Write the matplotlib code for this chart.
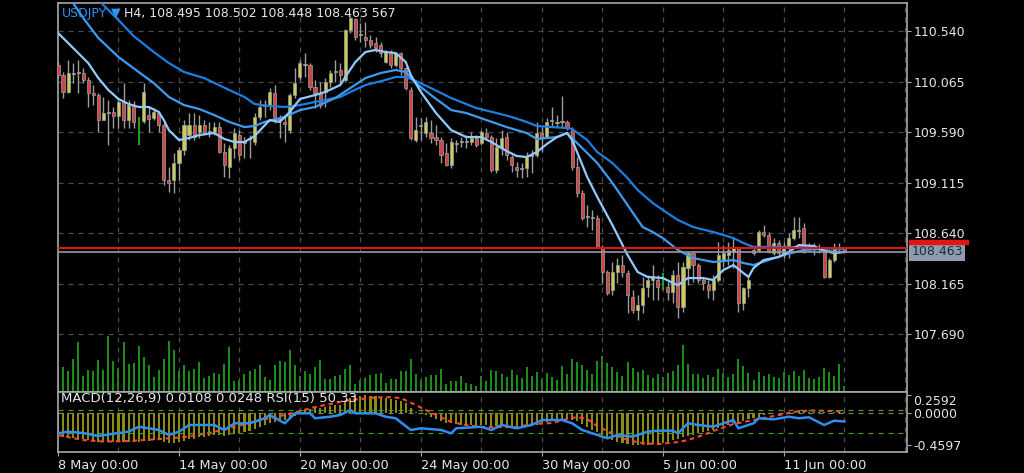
import numpy as np
import matplotlib
matplotlib.use("Agg")
import matplotlib.pyplot as plt
from matplotlib import transforms
from matplotlib.patches import Rectangle

# ----------------------------------------------------------------------
# DATA (USDJPY, H4)
# ----------------------------------------------------------------------
symbol = "USDJPY"
period = "H4"
bid = 108.463
ask = 108.496

opens = [
    110.221, 110.127, 109.967, 110.136, 110.145, 110.145, 110.080, 109.957, 109.938, 109.703,
    109.769, 109.779, 109.741, 109.873, 109.703, 109.844, 109.694, 109.694, 109.750, 109.722,
    109.769, 109.656, 109.139, 109.139, 109.299, 109.421, 109.562, 109.656, 109.590, 109.656,
    109.590, 109.590, 109.637, 109.402, 109.261, 109.440, 109.562, 109.487, 109.525, 109.496,
    109.732, 109.835, 109.844, 109.957, 109.703, 109.685, 109.609, 109.938, 110.108, 110.221,
    110.221, 110.014, 109.957, 109.967, 110.061, 110.155, 110.174, 110.080, 110.550, 110.653,
    110.503, 110.484, 110.456, 110.428, 110.409, 110.249, 110.343, 110.221, 110.333, 110.192,
    109.985, 109.515, 109.647, 109.581, 109.581, 109.543, 109.515, 109.393, 109.280, 109.478,
    109.496, 109.496, 109.496, 109.534, 109.487, 109.581, 109.543, 109.233, 109.440, 109.543,
    109.355, 109.261, 109.242, 109.252, 109.365, 109.374, 109.581, 109.543, 109.694, 109.685,
    109.685, 109.685, 109.609, 109.261, 109.017, 108.791, 108.791, 108.782, 108.509, 108.274,
    108.104, 108.274, 108.339, 108.264, 108.038, 107.916, 107.963, 108.133, 108.198, 108.198,
    108.180, 108.133, 108.085, 108.245, 107.944, 108.311, 108.452, 108.339, 108.198, 108.151,
    108.104, 108.198, 108.386, 108.434, 108.462, 108.499, 107.982, 108.123, 108.481, 108.481,
    108.650, 108.622, 108.452, 108.546, 108.434, 108.499, 108.593, 108.659, 108.687, 108.499,
    108.490, 108.499, 108.462, 108.227, 108.386, 108.490, 108.495,
]
highs = [
    110.249, 110.155, 110.268, 110.239, 110.268, 110.192, 110.108, 110.032, 109.957, 109.920,
    109.891, 109.826, 109.891, 110.051, 109.891, 109.882, 109.732, 110.051, 109.826, 109.816,
    109.779, 109.675, 109.261, 109.393, 109.449, 109.703, 109.769, 109.769, 109.750, 109.703,
    109.685, 109.685, 109.685, 109.487, 109.468, 109.628, 109.609, 109.543, 109.562, 109.769,
    109.891, 109.891, 110.004, 110.032, 109.750, 109.732, 109.957, 110.192, 110.268, 110.333,
    110.239, 110.080, 110.061, 110.098, 110.174, 110.268, 110.239, 110.560, 110.682, 110.663,
    110.616, 110.625, 110.503, 110.484, 110.437, 110.362, 110.362, 110.343, 110.343, 110.202,
    110.014, 109.732, 109.722, 109.732, 109.703, 109.656, 109.543, 109.487, 109.534, 109.515,
    109.543, 109.562, 109.590, 109.562, 109.609, 109.628, 109.562, 109.534, 109.609, 109.590,
    109.374, 109.308, 109.299, 109.402, 109.421, 109.685, 109.637, 109.722, 109.826, 109.750,
    109.929, 109.703, 109.637, 109.355, 109.045, 108.904, 108.857, 108.810, 108.528, 108.292,
    108.368, 108.405, 108.434, 108.292, 108.104, 108.057, 108.227, 108.245, 108.339, 108.245,
    108.264, 108.180, 108.292, 108.368, 108.368, 108.462, 108.462, 108.358, 108.227, 108.198,
    108.245, 108.556, 108.528, 108.556, 108.603, 108.509, 108.133, 108.245, 108.509, 108.669,
    108.716, 108.650, 108.593, 108.575, 108.556, 108.640, 108.791, 108.791, 108.735, 108.546,
    108.546, 108.537, 108.481, 108.405, 108.546, 108.546, 108.502,
]
lows = [
    110.098, 109.910, 109.957, 110.051, 109.957, 110.051, 109.826, 109.844, 109.590, 109.703,
    109.468, 109.628, 109.628, 109.628, 109.628, 109.628, 109.468, 109.675, 109.590, 109.703,
    109.590, 109.092, 109.026, 109.017, 109.139, 109.374, 109.515, 109.515, 109.534, 109.562,
    109.543, 109.562, 109.393, 109.167, 109.158, 109.346, 109.327, 109.346, 109.346, 109.468,
    109.703, 109.732, 109.797, 109.675, 109.534, 109.496, 109.581, 109.910, 110.080, 110.108,
    109.985, 109.816, 109.816, 109.826, 110.014, 110.061, 110.061, 110.061, 110.522, 110.456,
    110.437, 110.390, 110.381, 110.343, 110.296, 110.239, 110.192, 110.202, 110.127, 109.985,
    109.515, 109.496, 109.515, 109.543, 109.487, 109.468, 109.299, 109.271, 109.252, 109.402,
    109.449, 109.440, 109.468, 109.449, 109.468, 109.515, 109.214, 109.205, 109.374, 109.327,
    109.214, 109.167, 109.158, 109.167, 109.205, 109.355, 109.402, 109.534, 109.637, 109.637,
    109.637, 109.609, 109.233, 108.979, 108.763, 108.697, 108.669, 108.499, 108.170, 108.057,
    108.057, 108.170, 108.227, 107.888, 107.888, 107.822, 107.888, 108.038, 108.010, 108.010,
    108.104, 108.010, 107.982, 107.841, 107.897, 108.151, 108.180, 108.170, 108.104, 108.029,
    108.010, 108.180, 108.321, 108.339, 108.311, 107.897, 107.916, 108.038, 108.434, 108.462,
    108.603, 108.452, 108.434, 108.415, 108.405, 108.405, 108.575, 108.593, 108.452, 108.462,
    108.434, 108.452, 108.217, 108.217, 108.368, 108.452, 108.448,
]
closes = [
    110.127, 109.967, 110.145, 110.145, 110.155, 110.080, 109.957, 109.938, 109.703, 109.769,
    109.779, 109.741, 109.873, 109.703, 109.844, 109.685, 109.694, 109.967, 109.713, 109.779,
    109.656, 109.139, 109.111, 109.299, 109.421, 109.656, 109.656, 109.543, 109.656, 109.590,
    109.600, 109.637, 109.402, 109.280, 109.440, 109.581, 109.374, 109.496, 109.534, 109.732,
    109.826, 109.844, 109.967, 109.722, 109.713, 109.666, 109.938, 110.051, 110.239, 110.230,
    110.014, 109.957, 109.844, 110.061, 110.145, 110.164, 110.127, 110.550, 110.663, 110.484,
    110.512, 110.456, 110.409, 110.381, 110.333, 110.343, 110.221, 110.333, 110.192, 110.004,
    109.534, 109.609, 109.656, 109.685, 109.534, 109.515, 109.374, 109.280, 109.496, 109.487,
    109.506, 109.506, 109.534, 109.468, 109.590, 109.543, 109.233, 109.449, 109.534, 109.374,
    109.280, 109.233, 109.252, 109.355, 109.374, 109.581, 109.534, 109.685, 109.703, 109.675,
    109.694, 109.628, 109.261, 109.017, 108.782, 108.800, 108.782, 108.509, 108.274, 108.076,
    108.274, 108.339, 108.274, 108.057, 107.916, 107.963, 108.123, 108.198, 108.227, 108.133,
    108.180, 108.085, 108.245, 107.944, 108.321, 108.452, 108.339, 108.198, 108.170, 108.104,
    108.198, 108.434, 108.452, 108.481, 108.499, 107.982, 108.123, 108.198, 108.452, 108.650,
    108.622, 108.462, 108.546, 108.452, 108.499, 108.593, 108.669, 108.669, 108.462, 108.509,
    108.499, 108.490, 108.227, 108.386, 108.499, 108.499, 108.463,
]
volumes = [
    2500, 2500, 2070, 3330, 5000, 1600, 2170, 2070, 3230, 2170,
    5600, 3070, 2430, 5000, 2830, 2930, 4600, 3470, 2670, 1470,
    2170, 3330, 5100, 4230, 2070, 2670, 2070, 2300, 2970, 1430,
    1600, 1930, 1800, 2800, 4470, 1070, 1170, 1770, 2070, 2300,
    2700, 1470, 1170, 2670, 3070, 2970, 4200, 2670, 1600, 2070,
    1800, 2470, 3200, 1270, 1270, 1600, 1670, 2270, 2670, 800,
    1170, 1430, 1670, 1770, 1930, 900, 1270, 1270, 2070, 2070,
    3330, 1770, 1170, 1500, 1670, 1670, 2270, 800, 1070, 1130,
    1600, 900, 800, 570, 1600, 1070, 2170, 2070, 1800, 1500,
    2200, 1700, 1400, 2500, 1600, 2000, 1300, 1900, 1500, 1200,
    2600, 1800, 3300, 3000, 2700, 2200, 1800, 3100, 3600, 2900,
    2500, 2000, 1600, 3000, 2400, 2000, 2200, 1700, 1400, 1800,
    1500, 1900, 2100, 2700, 4700, 2800, 1800, 1800, 1400, 1700,
    1500, 2300, 1900, 1500, 1800, 3300, 2600, 1900, 1200, 2000,
    1600, 1800, 1500, 1400, 2000, 1700, 2100, 1600, 2200, 1400,
    1300, 1500, 2400, 2000, 1600, 2800, 567,
]

# moving averages (read at selected bars)
ma_fast_idx = [0, 3, 6, 8, 10, 12, 14, 16, 18, 20, 21, 22, 24, 26, 28, 31, 33, 35, 37, 39,
               42, 44, 46, 48, 51, 53, 56, 57, 59, 61, 63, 65, 67, 69, 70, 72, 75, 78, 81, 84,
               86, 89, 91, 93, 95, 97, 99, 101, 102, 103, 105, 107, 110, 113, 115, 117, 120, 122, 123, 125,
               128, 130, 132, 134, 136, 137, 138, 140, 143, 145, 147, 150, 152, 154, 156]
ma_fast = [110.522, 110.381, 110.239, 110.098, 109.985, 109.901, 109.854, 109.826, 109.826, 109.779,
           109.703, 109.609, 109.515, 109.534, 109.562, 109.581, 109.525, 109.496, 109.496, 109.553,
           109.703, 109.685, 109.779, 109.901, 109.938, 109.967, 110.032, 110.108, 110.249, 110.343,
           110.362, 110.343, 110.333, 110.249, 110.127, 109.967, 109.769, 109.609, 109.543, 109.543,
           109.496, 109.412, 109.365, 109.355, 109.402, 109.478, 109.543, 109.581, 109.515, 109.402,
           109.167, 108.979, 108.716, 108.434, 108.274, 108.227, 108.217, 108.170, 108.151, 108.217,
           108.217, 108.198, 108.292, 108.339, 108.264, 108.227, 108.311, 108.386, 108.415, 108.462,
           108.528, 108.518, 108.471, 108.452, 108.462]
ma_mid_idx = [0, 3, 5, 8, 12, 16, 19, 22, 25, 28, 31, 34, 37, 39, 41, 45, 48, 51, 55, 58,
              61, 64, 67, 69, 71, 74, 78, 81, 85, 89, 93, 95, 97, 99, 101, 103, 107, 110, 113, 116,
              118, 120, 123, 126, 130, 134, 136, 138, 141, 144, 148, 151, 154, 156]
ma_mid = [110.973, 110.804, 110.663, 110.475, 110.296, 110.155, 110.051, 109.920, 109.844, 109.807,
          109.750, 109.685, 109.637, 109.647, 109.685, 109.732, 109.797, 109.826, 109.910, 110.004,
          110.098, 110.145, 110.174, 110.155, 110.051, 109.938, 109.797, 109.769, 109.703, 109.637,
          109.581, 109.525, 109.534, 109.543, 109.581, 109.487, 109.299, 109.111, 108.904, 108.697,
          108.650, 108.593, 108.481, 108.405, 108.368, 108.386, 108.358, 108.339, 108.386, 108.434,
          108.481, 108.490, 108.462, 108.462]
ma_slow_idx = [0, 4, 8, 12, 15, 19, 22, 25, 29, 34, 37, 39, 42, 45, 48, 51, 56, 58, 61, 65,
               67, 69, 71, 74, 78, 83, 87, 90, 93, 95, 98, 101, 102, 105, 107, 110, 113, 115, 118, 120,
               123, 126, 130, 134, 136, 138, 143, 147, 151, 156]
ma_slow = [111.161, 111.001, 110.832, 110.644, 110.493, 110.343, 110.239, 110.155, 110.098, 109.985,
           109.920, 109.854, 109.835, 109.826, 109.844, 109.873, 109.920, 109.967, 110.032, 110.080,
           110.108, 110.108, 110.070, 110.004, 109.910, 109.816, 109.769, 109.732, 109.685, 109.647,
           109.637, 109.628, 109.619, 109.515, 109.402, 109.299, 109.158, 109.045, 108.923, 108.857,
           108.763, 108.697, 108.650, 108.593, 108.546, 108.509, 108.509, 108.509, 108.499, 108.490]

# MACD(12,26,9): main line per bar (drawn as histogram), signal read at selected bars
macd_main = [
    -0.32, -0.34, -0.35, -0.36, -0.37, -0.38, -0.39, -0.40, -0.41, -0.41,
    -0.42, -0.42, -0.42, -0.42, -0.41, -0.41, -0.41, -0.40, -0.40, -0.39,
    -0.39, -0.41, -0.43, -0.43, -0.42, -0.40, -0.38, -0.37, -0.35, -0.34,
    -0.33, -0.32, -0.32, -0.33, -0.32, -0.30, -0.29, -0.27, -0.26, -0.23,
    -0.20, -0.17, -0.14, -0.13, -0.12, -0.10, -0.07, -0.04, 0.00, 0.04,
    0.06, 0.07, 0.07, 0.08, 0.10, 0.11, 0.12, 0.17, 0.21, 0.24,
    0.25, 0.2592, 0.25, 0.24, 0.23, 0.22, 0.20, 0.19, 0.17, 0.14,
    0.07, 0.02, -0.01, -0.03, -0.06, -0.08, -0.11, -0.14, -0.15, -0.16,
    -0.17, -0.17, -0.17, -0.18, -0.17, -0.17, -0.19, -0.19, -0.18, -0.19,
    -0.20, -0.21, -0.21, -0.20, -0.19, -0.17, -0.16, -0.13, -0.11, -0.10,
    -0.09, -0.09, -0.10, -0.12, -0.16, -0.20, -0.24, -0.28, -0.32, -0.36,
    -0.39, -0.41, -0.43, -0.45, -0.455, -0.458, -0.4597, -0.455, -0.45, -0.44,
    -0.43, -0.41, -0.39, -0.38, -0.35, -0.33, -0.31, -0.29, -0.28, -0.26,
    -0.24, -0.21, -0.19, -0.17, -0.15, -0.14, -0.12, -0.09, -0.065, -0.05,
    -0.03, -0.02, 0.00, 0.00, 0.005, 0.01, 0.02, 0.03, 0.025, 0.02,
    0.02, 0.02, 0.01, 0.005, 0.01, 0.01, 0.0108,
]
signal_idx = [0, 5, 9, 14, 20, 25, 30, 34, 38, 42, 45, 48, 51, 55, 58, 62, 65, 68, 71, 73,
              75, 78, 81, 84, 88, 91, 94, 98, 101, 103, 105, 107, 109, 111, 113, 116, 119, 121, 123, 125,
              128, 131, 134, 138, 141, 145, 147, 150, 153, 156]
signal = [-0.317, -0.389, -0.410, -0.403, -0.375, -0.346, -0.288, -0.216, -0.144, -0.072,
          -0.029, 0.029, 0.086, 0.144, 0.187, 0.216, 0.231, 0.216, 0.115, 0.043,
          -0.029, -0.130, -0.173, -0.202, -0.202, -0.202, -0.159, -0.144, -0.086, -0.058,
          -0.086, -0.187, -0.259, -0.331, -0.389, -0.432, -0.447, -0.432, -0.418, -0.389,
          -0.317, -0.231, -0.159, -0.101, -0.058, 0.000, 0.029, 0.036, 0.030, 0.0248]

# RSI(15), read at selected bars
rsi_idx = [0, 2, 5, 8, 12, 14, 16, 18, 20, 22, 24, 26, 28, 31, 33, 35, 38, 41, 42, 45,
           47, 50, 51, 54, 56, 58, 59, 63, 65, 67, 70, 72, 76, 78, 79, 84, 86, 88, 91, 94,
           96, 100, 102, 104, 106, 109, 111, 114, 117, 119, 122, 123, 125, 127, 130, 133, 134, 135, 138, 139,
           142, 145, 147, 149, 152, 154, 156]
rsi = [30.0, 32.8, 30.5, 25.4, 30.5, 32.8, 41.3, 38.6, 35.7, 27.1,
       32.8, 44.3, 44.3, 44.3, 35.7, 47.2, 47.2, 55.8, 61.4, 47.2,
       64.3, 64.3, 55.8, 58.5, 61.4, 70.0, 64.3, 64.3, 58.5, 55.8,
       35.7, 38.6, 35.7, 30.0, 38.6, 41.3, 35.7, 44.3, 38.6, 44.3,
       52.8, 52.8, 47.2, 35.7, 30.0, 21.4, 27.1, 24.2, 32.8, 34.5,
       34.5, 30.0, 47.2, 44.3, 41.3, 49.9, 52.8, 38.6, 47.2, 55.8,
       54.0, 58.5, 55.8, 57.5, 44.3, 51.6, 50.33]
rsi_levels = [70, 30]

price_ticks = [110.540, 110.065, 109.590, 109.115, 108.640, 108.165, 107.690]
macd_ticks = [0.2592, 0.0, -0.4597]
time_ticks = [0, 24, 48, 72, 96, 120, 144]
time_labels = ["8 May 00:00", "14 May 00:00", "20 May 00:00", "24 May 00:00",
               "30 May 00:00", "5 Jun 00:00", "11 Jun 00:00"]

# ----------------------------------------------------------------------
# LAYOUT / STYLE
# ----------------------------------------------------------------------
W, H = 1024, 473
BAR_PX = 5.04                      # pixel distance between two bars
X_MAX = (907 - 58) / BAR_PX
PRICE_VIEW = (107.145, 110.804)
MACD_VIEW = (-0.5605, 0.3024)
RSI_VIEW = (-2.1, 100.9)
VOL_VIEW = (0, 38900)

TXT = "#e6e6e6"
FRAME = "#a8a8a8"
GRID = "#4d4d4d"
BULL = "#cbcb55"
BEAR = "#d24545"
WICK = "#9c9c9c"
DASH = (0, (4, 4))


def rect(x0, y0, x1, y1):
    return [x0 / W, 1 - y1 / H, (x1 - x0) / W, (y1 - y0) / H]


plt.rcParams["font.family"] = ["DejaVu Sans"]
fig = plt.figure(figsize=(W / 100, H / 100), dpi=100, facecolor="black")

axv = fig.add_axes(rect(58, 3, 907, 392), facecolor="black")
ax = fig.add_axes(rect(58, 3, 907, 392))
ax.patch.set_visible(False)
am = fig.add_axes(rect(58, 392, 907, 452), facecolor="black")
ar = fig.add_axes(rect(58, 392, 907, 452))
ar.patch.set_visible(False)

for a in (axv, ax, am, ar):
    a.set_xlim(0, X_MAX)
axv.set_ylim(*VOL_VIEW)
ax.set_ylim(*PRICE_VIEW)
am.set_ylim(*MACD_VIEW)
ar.set_ylim(*RSI_VIEW)

for a in (axv, ar):
    a.set_axis_off()
for a in (ax, am):
    for s in a.spines.values():
        s.set_color(FRAME)
        s.set_linewidth(1.2)

# grid
for x in range(12, int(X_MAX) + 1, 12):
    for a in (ax, am):
        a.axvline(x, color=GRID, lw=0.9, ls=DASH, zorder=0)
for p in price_ticks:
    ax.axhline(p, color=GRID, lw=0.9, ls=DASH, zorder=0)
am.axhline(0.0, color="#7a7a7a", lw=0.9, ls=DASH, zorder=0)
for lv in rsi_levels:
    ar.axhline(lv, color="#4c9a1c", lw=0.9, ls=DASH, zorder=0)

idx = np.arange(len(closes))
o, h, l, c = (np.array(v) for v in (opens, highs, lows, closes))

# volume
axv.vlines(idx, 0, volumes, color="#1f9a1f", lw=1.3)

# candles
flat = o == c
ax.vlines(idx[~flat], l[~flat], h[~flat], color=WICK, lw=1.0, zorder=2)
ax.vlines(idx[flat], l[flat], h[flat], color="#22b022", lw=1.3, zorder=2)
body = np.abs(c - o)
small = body < 0.012
col = np.where(c > o, BULL, BEAR).astype(object)
col[small] = "#d0d0c0"
m = ~flat
ax.bar(idx[m], np.maximum(body, 0.006)[m], bottom=np.minimum(o, c)[m], width=0.62,
       color=list(col[m]), edgecolor=WICK, linewidth=0.5, zorder=3)

# moving averages
ax.plot(ma_slow_idx, ma_slow, color="#1e7ee0", lw=1.6, zorder=4)
ax.plot(ma_mid_idx, ma_mid, color="#3d9cf0", lw=1.6, zorder=4)
ax.plot(ma_fast_idx, ma_fast, color="#90caff", lw=1.6, zorder=4)

# bid / ask
ax.axhline(ask, color="#e01515", lw=1.5, zorder=5)
ax.axhline(bid, color="#8c9aa8", lw=1.2, zorder=5)

# price axis on the right
ax.yaxis.tick_right()
ax.set_yticks(price_ticks)
ax.set_yticklabels([f"{p:.3f}" for p in price_ticks])
ax.tick_params(axis="y", colors=FRAME, labelcolor=TXT, labelsize=9, length=3, pad=1.5)
ax.set_xticks([])

# bid label + ask marker on the price scale
tr = transforms.blended_transform_factory(fig.transFigure, ax.transData)
px = (PRICE_VIEW[1] - PRICE_VIEW[0]) / 389.0
ax.text(911.5 / W, bid, f"{bid:.3f}", transform=tr, color="#1f2a36", fontsize=9,
        va="center", ha="left", zorder=10, clip_on=False,
        bbox=dict(boxstyle="square,pad=0.18", fc="#8e9dae", ec="none"))
fig.add_artist(Rectangle((909 / W, bid + 8 * px), 59 / W, 4 * px,
                         transform=tr, color="#e01515", zorder=11))

# MACD + signal + RSI
am.bar(idx, macd_main, width=0.42, color="#8c8c14", zorder=2)
am.plot(signal_idx, signal, color="#ff4433", lw=1.5, ls=(0, (2.2, 1.8)), zorder=4)
ar.plot(rsi_idx, rsi, color="#2f8ff0", lw=1.8, zorder=5)

am.yaxis.tick_right()
am.set_yticks(macd_ticks)
am.set_yticklabels([f"{v:.4f}" for v in macd_ticks])
am.tick_params(axis="y", colors=FRAME, labelcolor=TXT, labelsize=9, length=3, pad=1.5)
am.get_yticklabels()[0].set_va("top")
am.set_xticks(time_ticks)
am.set_xticklabels(time_labels, ha="left")
am.tick_params(axis="x", colors=FRAME, labelcolor=TXT, labelsize=9.3, length=3, pad=2)

fig.text(61 / W, 1 - 398.5 / H,
         f"MACD(12,26,9) {macd_main[-1]:.4f} {signal[-1]:.4f} RSI(15) {rsi[-1]:.2f}",
         color=TXT, fontsize=9.5, va="center", ha="left", zorder=12)

# header
renderer = fig.canvas.get_renderer()
x = 61.5
parts = [(symbol, "#2e90f0"), (" \u25bc", "#2e90f0"),
         (f" {period}, {opens[-1]:.3f} {highs[-1]:.3f} {lows[-1]:.3f} {closes[-1]:.3f} {volumes[-1]}", TXT)]
for s, colr in parts:
    t = fig.text(x / W, 1 - 13 / H, s, color=colr, fontsize=9, va="center", ha="left", zorder=12)
    x += t.get_window_extent(renderer=renderer).width

fig.savefig("out.png", dpi=100, facecolor="black")
